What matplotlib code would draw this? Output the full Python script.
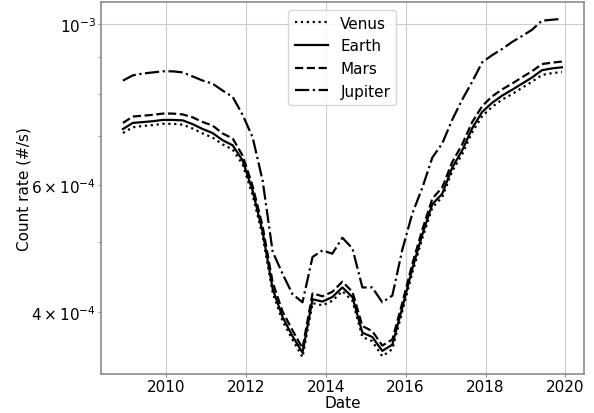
import numpy as np
import pandas as pd

import matplotlib
matplotlib.use("Agg")
import matplotlib.pyplot as plt
import matplotlib.dates as mdates

# quarterly samples, Dec 2008 .. Dec 2019
dates = pd.date_range("2008-12-01", "2019-12-01", freq="3MS")

# count rates in units of 1e-4 #/s
venus = [7.07, 7.20, 7.23, 7.25, 7.28, 7.28, 7.26, 7.17, 7.06, 6.97,
         6.82, 6.71, 6.40, 5.81, 5.10, 4.26, 3.89, 3.67, 3.47, 4.12,
         4.09, 4.15, 4.28, 4.15, 3.70, 3.65, 3.48, 3.56, 4.01, 4.53,
         5.06, 5.58, 5.77, 6.26, 6.61, 7.09, 7.46, 7.68, 7.86, 8.00,
         8.16, 8.32, 8.50, 8.55, 8.58]
earth = [7.16, 7.30, 7.32, 7.34, 7.37, 7.37, 7.36, 7.27, 7.16, 7.07,
         6.91, 6.80, 6.48, 5.89, 5.17, 4.31, 3.94, 3.71, 3.52, 4.17,
         4.14, 4.20, 4.33, 4.20, 3.75, 3.70, 3.54, 3.61, 4.06, 4.59,
         5.12, 5.64, 5.83, 6.33, 6.69, 7.18, 7.56, 7.78, 7.96, 8.11,
         8.27, 8.43, 8.63, 8.68, 8.71]
mars = [7.30, 7.45, 7.47, 7.49, 7.52, 7.52, 7.50, 7.43, 7.32, 7.24,
        7.06, 6.95, 6.58, 5.98, 5.26, 4.40, 4.01, 3.78, 3.57, 4.25,
        4.21, 4.27, 4.41, 4.27, 3.83, 3.77, 3.60, 3.67, 4.12, 4.66,
        5.20, 5.74, 5.95, 6.44, 6.82, 7.32, 7.70, 7.94, 8.12, 8.27,
        8.44, 8.60, 8.80, 8.84, 8.87]
jupiter = [8.35, 8.49, 8.54, 8.57, 8.60, 8.60, 8.57, 8.46, 8.35, 8.27,
           8.09, 7.93, 7.49, 6.98, 6.08, 4.85, 4.52, 4.24, 4.13, 4.77,
           4.87, 4.82, 5.07, 4.90, 4.33, 4.33, 4.13, 4.22, 4.88, 5.47,
           5.94, 6.54, 6.84, 7.37, 7.86, 8.32, 8.85, 9.05, 9.23, 9.44,
           9.62, 9.81, 10.10, 10.13, 10.16]

series = [("Venus", venus, ":"), ("Earth", earth, "-"),
          ("Mars", mars, "--"), ("Jupiter", jupiter, "-.")]

plt.rcParams["font.size"] = 11
plt.rcParams["axes.edgecolor"] = "0.55"
plt.rcParams["xtick.color"] = "0.55"
plt.rcParams["ytick.color"] = "0.55"
plt.rcParams["xtick.labelcolor"] = "black"
plt.rcParams["ytick.labelcolor"] = "black"

fig = plt.figure(figsize=(5.94, 4.14), dpi=100)
ax = fig.add_axes([0.170, 0.094, 0.813, 0.899])

for name, vals, ls in series:
    ax.plot(dates, np.array(vals) * 1e-4, color="black", linestyle=ls,
            linewidth=1.6, label=name)

ax.set_yscale("log")
ax.xaxis.set_major_locator(mdates.YearLocator(2))
ax.xaxis.set_major_formatter(mdates.DateFormatter("%Y"))
ax.tick_params(which="both", length=2, pad=1.5)
ax.grid(True, color="#cccccc", linewidth=0.8)
for sp in ax.spines.values():
    sp.set_linewidth(1.2)

ax.set_xlabel("Date", labelpad=1)
ax.set_ylabel("Count rate (#/s)", labelpad=0)
ax.legend(loc="upper center", handlelength=2.2)

plt.savefig("out.png", dpi=100)
plt.close()
